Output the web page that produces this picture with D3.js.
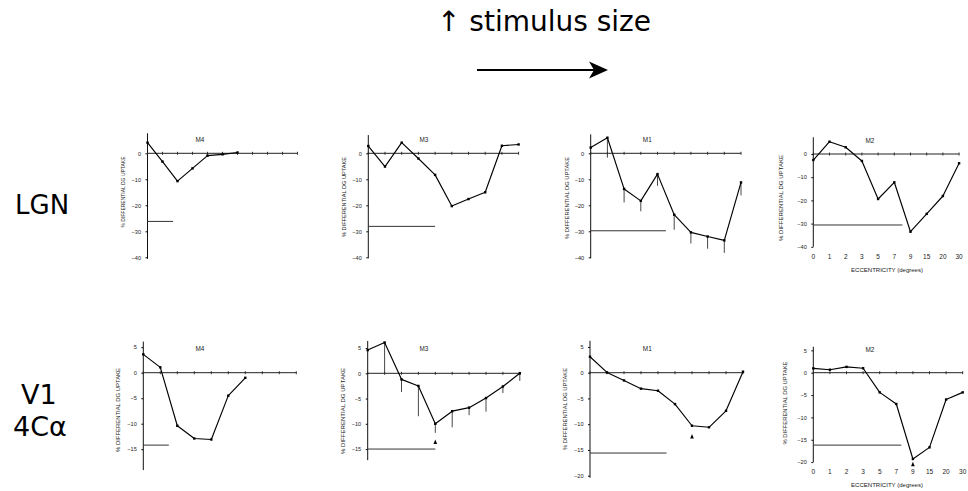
<!DOCTYPE html>
<html><head><meta charset="utf-8">
<script src="https://cdn.jsdelivr.net/npm/d3@7"></script>
<style>body{margin:0;background:#fff}svg{display:block}</style>
</head><body>
<svg id="chart" width="968" height="491"></svg>
<script>
// ---- data ----
const titles = ["M4", "M3", "M1", "M2", "M4", "M3", "M1", "M2"];
const rowLabels = [["LGN"], ["V1", "4C\u03b1"]];
const yTicksLGN = [0, -10, -20, -30, -40];
const yTicksV1a = [5, 0, -5, -10, -15];
const yTicksV1b = [5, 0, -5, -10, -15, -20];
const eccLabels = ["0", "1", "2", "3", "5", "7", "9", "15", "20", "30"];

const lgnM4 = [4.1, -3.2, -10.7, -5.8, -0.9, -0.4, 0.3];
const lgnM3 = [2.8, -5.1, 4.1, -2.0, -8.3, -20.3, -17.6, -15.0, 2.9, 3.4];
const lgnM1 = [2.2, 6.0, -13.7, -18.3, -8.0, -23.6, -30.4, -32.0, -33.5, -11.2];
const lgnM1Err = [null, -1.7, -18.9, -22.3, -12.5, -29.4, -34.7, -36.7, -38.3, -16.2];
const lgnM2 = [-2.6, 5.3, 2.9, -3.0, -19.4, -12.2, -33.5, -25.8, -18.1, -4.0];
const v1M4 = [3.6, 1.05, -10.4, -12.9, -13.1, -4.5, -1.0];
const v1M3 = [4.6, 6.1, -1.2, -2.5, -10.0, -7.5, -6.8, -4.9, -2.6, 0.0];
const v1M3Err = [null, 0, -3.7, -8.5, -11.8, -10.7, -8.3, -7.6, -3.9, -1.5];
const v1M1 = [3.1, 0.05, -1.5, -3.1, -3.5, -6.1, -10.3, -10.6, -7.4, 0.2];
const v1M2 = [0.97, 0.67, 1.3, 1.0, -4.4, -7.0, -19.3, -16.7, -6.0, -4.4];

// control (baseline) level and its extent in stimulus positions
const baseValues = [-26.2, -28.1, -29.8, -30.6, -14.2, -15.0, -15.6, -16.2];
const baseEnds = [1.7, 4.0, 4.5, 5.5, 1.5, 4.0, 4.5, 5.3];
// arrowheads marking the peak: [panel, position, tip value]
const arrows = [[5, 4, -13.1], [6, 6, -11.9], [7, 6, -19.9]];

const seriesList = [lgnM4, lgnM3, lgnM1, lgnM2, v1M4, v1M3, v1M1, v1M2];
const errList = [null, null, lgnM1Err, null, null, v1M3Err, null, null];
const tickList = [yTicksLGN, yTicksLGN, yTicksLGN, yTicksLGN, yTicksV1a, yTicksV1a, yTicksV1b, yTicksV1b];
const nPositions = [11, 10, 10, 10, 10, 10, 10, 10];
const yExtent = [[7.7, -40.6], [7, -40.4], [7.3, -40.4], [7.2, -40], [6.1, -19.1], [6.4, -17.2], [6.2, -20.4], [5.8, -20]];

// ---- layout ----
const layout = [
  {ax:147.5, step:15,   zy:153.3, ppu:2.6,  tx:200,   ty:140,   lx:123,   ly:192, ll:71},
  {ax:368.3, step:16.7, zy:153.3, ppu:2.6,  tx:424,   ty:140,   lx:344.5, ly:197, ll:80},
  {ax:590.7, step:16.7, zy:153.3, ppu:2.6,  tx:647.3, ty:140,   lx:567.5, ly:198, ll:82},
  {ax:813.3, step:16.2, zy:154,   ppu:2.32, tx:870,   ty:140.7, lx:781,   ly:198, ll:86, xl:256.7, el:270},
  {ax:143.3, step:17,   zy:372.7, ppu:5.1,  tx:200,   ty:348.3, lx:118.5, ly:410, ll:84},
  {ax:367.7, step:16.9, zy:373.3, ppu:5.05, tx:424,   ty:348.3, lx:343.5, ly:411, ll:86},
  {ax:590,   step:17,   zy:372.7, ppu:5.15, tx:647.3, ty:348.3, lx:565,   ly:409, ll:82},
  {ax:813.3, step:16.6, zy:372.7, ppu:4.47, tx:870,   ty:350,   lx:785,   ly:403, ll:83, xl:471.7, el:485}
];

const svg = d3.select("#chart");
const small = "'Liberation Sans', Arial, Helvetica, sans-serif";
const big = "'DejaVu Sans', Verdana, sans-serif";

// header
svg.append("text").attr("x", 437).attr("y", 31).attr("font-family", big)
  .attr("font-size", 28).attr("fill", "#000").text("\u2191 stimulus size");
svg.append("line").attr("x1", 477).attr("x2", 596).attr("y1", 70).attr("y2", 70)
  .attr("stroke", "#000").attr("stroke-width", 2);
svg.append("path").attr("d", "M608,70 L589,61.5 L594,70 L589,78.5 Z").attr("fill", "#000");

// row labels
svg.append("text").attr("x", 15).attr("y", 214).attr("font-family", big).attr("font-size", 26).text(rowLabels[0][0]);
svg.append("text").attr("x", 21).attr("y", 404).attr("font-family", big).attr("font-size", 27).text(rowLabels[1][0]);
svg.append("text").attr("x", 13).attr("y", 436).attr("font-family", big).attr("font-size", 27).text(rowLabels[1][1]);

seriesList.forEach((vals, i) => {
  const L = layout[i];
  const g = svg.append("g");
  const x = d3.scaleLinear().domain([0, 1]).range([L.ax, L.ax + L.step]);
  const y = d3.scaleLinear().domain([0, -10]).range([L.zy, L.zy + 10 * L.ppu]);
  const n = nPositions[i];

  // y axis line
  g.append("line").attr("x1", L.ax).attr("x2", L.ax)
    .attr("y1", y(yExtent[i][0])).attr("y2", y(yExtent[i][1]))
    .attr("stroke", "#111").attr("stroke-width", 1);
  // y ticks
  const yAxis = d3.axisLeft(y).tickValues(tickList[i]).tickSize(2).tickPadding(4.5).tickFormat(d3.format("d"));
  const ya = g.append("g").attr("transform", `translate(${L.ax},0)`).call(yAxis);
  ya.select(".domain").remove();
  ya.selectAll("line").attr("stroke", "#111");
  ya.selectAll("text").attr("font-family", small).attr("font-size", 5.6).attr("fill", "#222");

  // zero line with position ticks
  g.append("line").attr("x1", x(0)).attr("x2", x(n - 1)).attr("y1", y(0)).attr("y2", y(0))
    .attr("stroke", "#222").attr("stroke-width", 1);
  g.selectAll(".pt").data(d3.range(n)).join("line")
    .attr("x1", d => x(d)).attr("x2", d => x(d))
    .attr("y1", y(0) - 1.5).attr("y2", y(0) + 1.5)
    .attr("stroke", "#222").attr("stroke-width", 0.9);

  // eccentricity labels
  if (L.xl) {
    g.selectAll(".xl").data(eccLabels).join("text")
      .attr("x", (d, j) => x(j)).attr("y", L.xl).attr("dy", "0.35em")
      .attr("text-anchor", "middle").attr("font-family", small).attr("font-size", 6.5).attr("fill", "#222")
      .text(d => d);
    g.append("text").attr("x", 887).attr("y", L.el).attr("dy", "0.35em")
      .attr("text-anchor", "middle").attr("font-family", small).attr("font-size", 5.5)
      .attr("textLength", 72).attr("lengthAdjust", "spacingAndGlyphs").attr("fill", "#222")
      .text("ECCENTRICITY (degrees)");
  }

  // baseline (control)
  g.append("line").attr("x1", x(0)).attr("x2", x(baseEnds[i]))
    .attr("y1", y(baseValues[i])).attr("y2", y(baseValues[i]))
    .attr("stroke", "#333").attr("stroke-width", 1);

  // error bars
  if (errList[i]) {
    g.selectAll(".eb").data(errList[i].map((e, j) => [j, vals[j], e]).filter(d => d[2] !== null)).join("line")
      .attr("x1", d => x(d[0])).attr("x2", d => x(d[0]))
      .attr("y1", d => y(d[1])).attr("y2", d => y(d[2]))
      .attr("stroke", "#333").attr("stroke-width", 0.9);
  }

  // data line
  const line = d3.line().x((d, j) => x(j)).y(d => y(d));
  g.append("path").attr("d", line(vals)).attr("fill", "none")
    .attr("stroke", "#000").attr("stroke-width", 1.15).attr("stroke-linejoin", "round");
  g.selectAll(".mk").data(vals).join("rect")
    .attr("x", (d, j) => x(j) - 1.2).attr("y", d => y(d) - 1.2)
    .attr("width", 2.4).attr("height", 2.4).attr("fill", "#000");

  // title
  g.append("text").attr("x", L.tx).attr("y", L.ty).attr("dy", "0.35em").attr("text-anchor", "middle")
    .attr("font-family", small).attr("font-size", 6.4).attr("fill", "#222").text(titles[i]);

  // y label
  g.append("text").attr("transform", `translate(${L.lx},${L.ly}) rotate(-90)`)
    .attr("dy", "0.35em").attr("text-anchor", "middle")
    .attr("font-family", small).attr("font-size", 5.6)
    .attr("textLength", L.ll).attr("lengthAdjust", "spacingAndGlyphs").attr("fill", "#222")
    .text("% DIFFERENTIAL DG UPTAKE");

  // arrowheads
  arrows.filter(a => a[0] === i).forEach(a => {
    const ax = x(a[1]), ay = y(a[2]);
    g.append("path").attr("d", `M${ax},${ay} L${ax - 1.8},${ay + 4.5} L${ax + 1.8},${ay + 4.5} Z`).attr("fill", "#000");
  });
});
</script>
</body></html>
